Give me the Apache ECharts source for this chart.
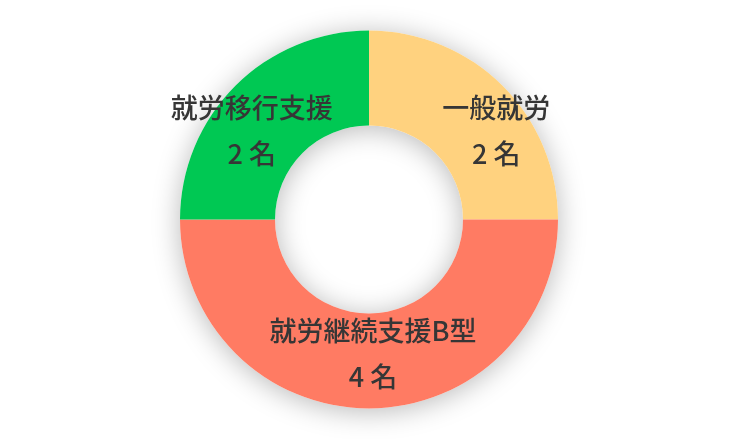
<!DOCTYPE html>
<html>
<head>
<meta charset="utf-8">
<script src="https://cdn.jsdelivr.net/npm/echarts@6/dist/echarts.min.js"></script>
<style>
  html, body { margin: 0; padding: 0; background: #fff; }
  #container { width: 737px; height: 439px; }
</style>
</head>
<body>
<div id="container"></div>
<script>
const categories = ['一般就労', '就労継続支援B型', '就労移行支援'];
const counts = [2, 4, 2];
const colors = ['#FFD27F', '#FF7B63', '#00C853'];
// label nudges relative to the sector's default inside position
const labelOffsets = [[25, 13], [4, -10], [-15, 13]];

const chart = echarts.init(document.getElementById('container'));

const total = counts.reduce(function (a, b) { return a + b; }, 0);
const center = [369, 219.5];
const radius = [94, 189];

const option = {
  animation: false,
  series: [
    {
      // one ring underneath that carries the drop shadow for the whole donut
      type: 'pie',
      silent: true,
      z: 1,
      center: center,
      radius: radius,
      label: { show: false },
      labelLine: { show: false },
      itemStyle: {
        color: '#ffffff',
        shadowBlur: 28,
        shadowColor: 'rgba(0, 0, 0, 0.28)',
        shadowOffsetY: 3
      },
      emphasis: { disabled: true },
      data: [{ name: 'total', value: total }]
    },
    {
      type: 'pie',
      z: 2,
      center: center,
      radius: radius,
      startAngle: 90,
      clockwise: true,
      label: {
        show: true,
        position: 'inside',
        formatter: function (p) {
          return p.name + '\n' + p.value + ' 名';
        },
        color: '#363636',
        fontSize: 27,
        fontWeight: 500,
        lineHeight: 46,
        fontFamily: '"Noto Sans CJK JP", sans-serif'
      },
      labelLine: { show: false },
      emphasis: { disabled: true },
      data: categories.map(function (name, i) {
        return {
          name: name,
          value: counts[i],
          itemStyle: { color: colors[i] },
          label: { offset: labelOffsets[i] }
        };
      })
    }
  ]
};

chart.setOption(option);
</script>
</body>
</html>
